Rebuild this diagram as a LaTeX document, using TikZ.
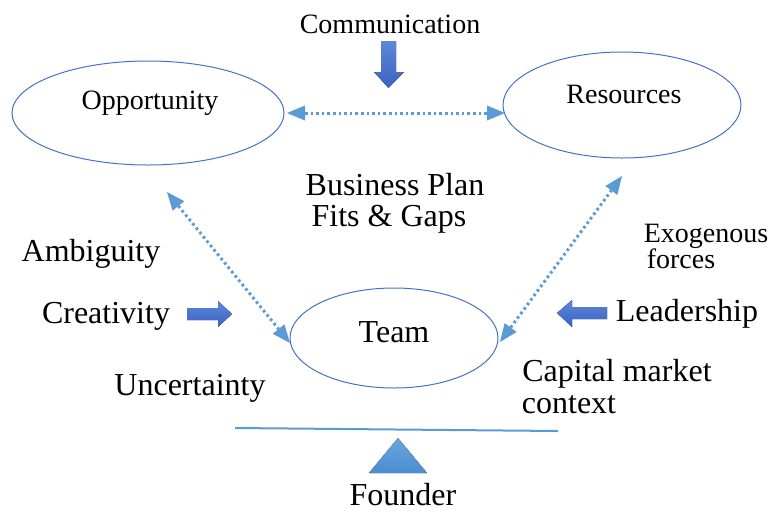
\documentclass[tikz,border=0pt]{standalone}
\usepackage{fontspec}
\setmainfont{Liberation Serif}
\usetikzlibrary{arrows.meta}
\definecolor{ell}{HTML}{4472C4}
\definecolor{dot}{HTML}{5B9BD5}
\definecolor{blktop}{HTML}{5E86D8}
\definecolor{blkbot}{HTML}{3A63C2}
\definecolor{tritop}{HTML}{6BA6DE}
\definecolor{tribot}{HTML}{4A8BD2}
\tikzset{
  oval/.style={draw=ell, line width=1pt},
  big/.style={font=\fontsize{32}{34}\selectfont, anchor=base, inner sep=0pt},
  mid/.style={font=\fontsize{28}{30}\selectfont, anchor=base, inner sep=0pt},
  dotlink/.style={draw=dot, line width=3pt, dash pattern=on 2.6pt off 3pt,
     {Triangle[length=18pt,width=15pt,fill=dot,line width=0pt]}-{Triangle[length=18pt,width=15pt,fill=dot,line width=0pt]}},
  blockarrow/.style={top color=blktop, bottom color=blkbot, draw=none}
}
\begin{document}
\begin{tikzpicture}[x=1pt,y=-1pt]
\useasboundingbox (0,0) rectangle (773,512);
% ellipses
\draw[oval] (148,113) ellipse [x radius=136, y radius=52];
\draw[oval] (622,105) ellipse [x radius=119, y radius=53];
\draw[oval] (394,338) ellipse [x radius=104, y radius=50];
\coordinate (oppR) at (287,113);
\coordinate (resL) at (505,113);
\coordinate (oppB) at (167,192);
\coordinate (teamL) at (290,343);
\coordinate (teamR) at (500,342);
\coordinate (resB) at (622,176);
% labels
\node[mid] (comm) at (390,33) {Communication};
\node[mid] (opp) at (150,109) {Opportunity};
\node[mid] (res) at (624,103) {Resources};
\node[big] (bp) at (395,195) {Business Plan};
\node[big] (fg) at (389,226) {Fits \& Gaps};
\node[big] (amb) at (91,261) {Ambiguity};
\node[big] (cre) at (106,323) {Creativity};
\node[big] (team) at (394,342) {Team};
\node[big] (unc) at (190,395) {Uncertainty};
\node[mid] (exo) at (706,242) {Exogenous};
\node[mid] (frc) at (681,268) {forces};
\node[big] (lead) at (687,321) {Leadership};
\node[big] (cap) at (617,381) {Capital market};
\node[big] (ctx) at (569,413) {context};
\node[big] (fou) at (403,505) {Founder};
% dotted links
\draw[dotlink] (oppR) -- (resL);
\draw[dotlink] (oppB) -- (teamL);
\draw[dotlink] (teamR) -- (resB);
% block arrows
\fill[blockarrow] (381,41) -- (396,41) -- (396,72) -- (404,72) -- (388.5,88) -- (374,72) -- (381,72) -- cycle;
\fill[blockarrow] (187,308) -- (218,308) -- (218,301) -- (232,314) -- (218,327) -- (218,320) -- (187,320) -- cycle;
\fill[blockarrow] (607,307) -- (572,307) -- (572,300) -- (557,313) -- (572,327) -- (572,319) -- (607,319) -- cycle;
% balance
\coordinate (beamL) at (235,428);
\coordinate (beamR) at (558,431);
\draw[dot, line width=2pt] (beamL) -- (beamR);
\fill[top color=tritop, bottom color=tribot] (398,438) -- (427,473) -- (369,473) -- cycle;
\end{tikzpicture}
\end{document}
